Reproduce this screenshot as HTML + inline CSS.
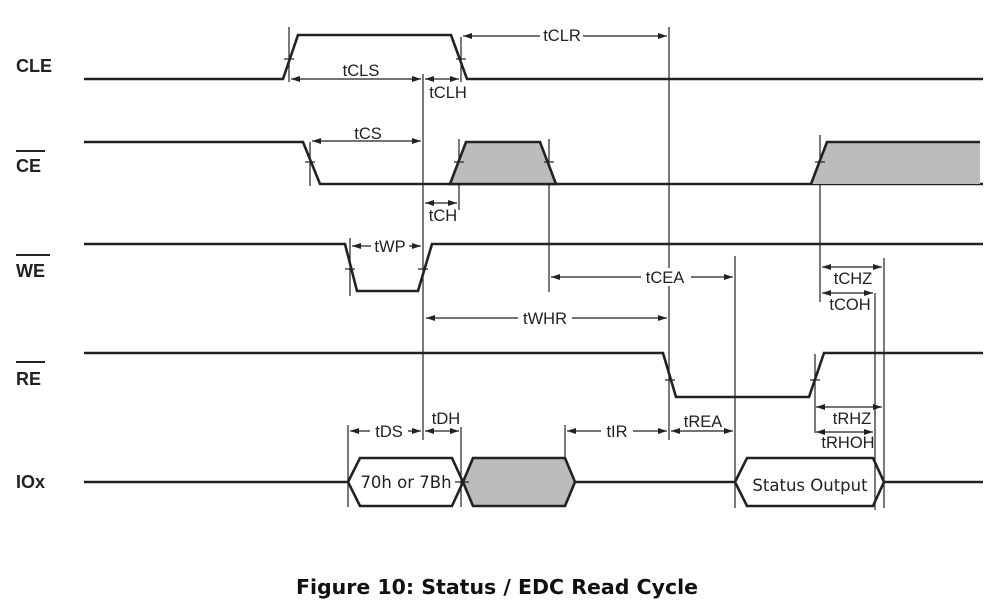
<!DOCTYPE html>
<html><head><meta charset="utf-8"><style>
html,body{margin:0;padding:0;background:#fff;}
svg{display:block;}
.s{fill:none;stroke:#222;stroke-width:2.6;stroke-linejoin:miter;}
.g{fill:#bcbcbc;stroke:#222;stroke-width:2.6;}
.v{stroke:#222;stroke-width:1.2;}
.a{stroke:#222;stroke-width:1.2;marker-start:url(#ms);marker-end:url(#me);}
.t{font-family:"Liberation Sans",Arial,sans-serif;font-size:16.5px;fill:#222;}
.lb{font-family:"Liberation Sans",Arial,sans-serif;font-size:18px;font-weight:bold;fill:#222;}
.bx{font-family:"DejaVu Sans",Verdana,sans-serif;font-size:16.5px;fill:#222;}
</style></head><body>
<svg width="999" height="613" viewBox="0 0 999 613" xmlns="http://www.w3.org/2000/svg">
<defs>
<marker id="me" markerWidth="10" markerHeight="8" refX="9" refY="4" orient="auto" markerUnits="userSpaceOnUse"><path d="M0,1 L9,4 L0,7 Z" fill="#222"/></marker>
<marker id="ms" markerWidth="10" markerHeight="8" refX="1" refY="4" orient="auto" markerUnits="userSpaceOnUse"><path d="M10,1 L1,4 L10,7 Z" fill="#222"/></marker>
</defs>

<text class="lb" x="16" y="72">CLE</text>
<text class="lb" x="16" y="172">CE</text><line x1="16" y1="151" x2="45" y2="151" stroke="#222" stroke-width="2"/>
<text class="lb" x="16" y="277">WE</text><line x1="16" y1="255" x2="50" y2="255" stroke="#222" stroke-width="2"/>
<text class="lb" x="16" y="385">RE</text><line x1="16" y1="362" x2="45" y2="362" stroke="#222" stroke-width="2"/>
<text class="lb" x="16" y="488">IOx</text>

<line class="v" x1="289" y1="27" x2="289" y2="82"/>
<line class="v" x1="461" y1="37" x2="461" y2="82"/>
<line class="v" x1="423" y1="74" x2="423" y2="440"/>
<line class="v" x1="669" y1="27" x2="669" y2="440"/>
<line class="v" x1="310" y1="142" x2="310" y2="186"/>
<line class="v" x1="459" y1="139" x2="459" y2="210"/>
<line class="v" x1="549" y1="139" x2="549" y2="292"/>
<line class="v" x1="820" y1="135" x2="820" y2="302"/>
<line class="v" x1="350" y1="238" x2="350" y2="296"/>
<line class="v" x1="735" y1="256" x2="735" y2="508"/>
<line class="v" x1="884" y1="258" x2="884" y2="508"/>
<line class="v" x1="875" y1="293" x2="875" y2="510"/>
<line class="v" x1="815" y1="354" x2="815" y2="433"/>
<line class="v" x1="348" y1="425" x2="348" y2="507"/>
<line class="v" x1="461" y1="427" x2="461" y2="507"/>
<line class="v" x1="565" y1="425" x2="565" y2="507"/>

<polyline class="s" points="84,79 283,79 298,35 451,35 467,79 983,79"/>
<polyline class="s" points="84,142 303,142 320,184 983,184"/>
<path class="g" d="M450,184 L466,142 L540,142 L556,184 Z"/>
<path class="g" d="M811,184 L827,142 L980,142 L980,184 Z" style="stroke:none"/>
<polyline class="s" points="811,184 827,142 980,142"/>
<polyline class="s" points="84,244 345,244 357,291 418,291 432,244 983,244"/>
<polyline class="s" points="84,353 663,353 676,397 809,397 824,353 983,353"/>
<line class="s" x1="84" y1="482" x2="348" y2="482"/>
<path class="s" d="M348,482 L360,458 L452,458 L463,482 L452,506 L360,506 Z" fill="#fff"/>
<path class="g" d="M463,482 L473,458 L565,458 L575,482 L565,506 L473,506 Z"/>
<line class="s" x1="575" y1="482" x2="735" y2="482"/>
<path class="s" d="M735,482 L747,458 L873,458 L884,482 L873,506 L747,506 Z" fill="#fff"/>
<line class="s" x1="884" y1="482" x2="983" y2="482"/>
<text class="bx" x="406" y="488" text-anchor="middle">70h or 7Bh</text>
<text class="bx" x="810" y="491" text-anchor="middle">Status Output</text>

<g class="v">
<line x1="284" y1="59" x2="294" y2="59"/><line x1="456" y1="59" x2="466" y2="59"/>
<line x1="305" y1="162" x2="315" y2="162"/><line x1="454" y1="162" x2="464" y2="162"/><line x1="544" y1="162" x2="554" y2="162"/><line x1="815" y1="162" x2="825" y2="162"/>
<line x1="345" y1="269" x2="355" y2="269"/><line x1="418" y1="269" x2="428" y2="269"/>
<line x1="665" y1="380" x2="675" y2="380"/><line x1="810" y1="380" x2="820" y2="380"/>
<line x1="455" y1="482" x2="469" y2="482"/>
</g>

<line class="a" x1="291" y1="79" x2="421" y2="79"/>
<line class="a" x1="425" y1="79" x2="459" y2="79"/>
<line class="a" x1="463" y1="36" x2="667" y2="36"/>
<line class="a" x1="312" y1="141" x2="421" y2="141"/>
<line class="a" x1="425" y1="203" x2="457" y2="203"/>
<line class="a" x1="352" y1="246" x2="421" y2="246"/>
<line class="a" x1="551" y1="277" x2="733" y2="277"/>
<line class="a" x1="426" y1="318" x2="667" y2="318"/>
<line class="a" x1="822" y1="267" x2="882" y2="267"/>
<line class="a" x1="822" y1="293" x2="873" y2="293"/>
<line class="a" x1="816" y1="407" x2="882" y2="407"/>
<line class="a" x1="816" y1="432" x2="873" y2="432"/>
<line class="a" x1="350" y1="431" x2="421" y2="431"/>
<line class="a" x1="425" y1="431" x2="459" y2="431"/>
<line class="a" x1="567" y1="431" x2="667" y2="431"/>
<line class="a" x1="671" y1="431" x2="733" y2="431"/>

<g fill="#fff">
<rect x="540" y="27" width="43" height="18"/>
<rect x="641" y="268" width="50" height="18"/>
<rect x="518" y="309" width="54" height="18"/>
<rect x="371" y="237" width="38" height="18"/>
<rect x="370" y="422" width="38" height="18"/>
<rect x="601" y="422" width="32" height="18"/>
</g>
<text class="t" x="562" y="41" text-anchor="middle">tCLR</text>
<text class="t" x="361" y="76" text-anchor="middle">tCLS</text>
<text class="t" x="448" y="98" text-anchor="middle">tCLH</text>
<text class="t" x="368" y="139" text-anchor="middle">tCS</text>
<text class="t" x="443" y="221" text-anchor="middle">tCH</text>
<text class="t" x="390" y="252" text-anchor="middle">tWP</text>
<text class="t" x="665" y="283" text-anchor="middle">tCEA</text>
<text class="t" x="545" y="324" text-anchor="middle">tWHR</text>
<text class="t" x="853" y="284" text-anchor="middle">tCHZ</text>
<text class="t" x="850" y="310" text-anchor="middle">tCOH</text>
<text class="t" x="852" y="424" text-anchor="middle">tRHZ</text>
<text class="t" x="848" y="448" text-anchor="middle">tRHOH</text>
<text class="t" x="389" y="437" text-anchor="middle">tDS</text>
<text class="t" x="446" y="424" text-anchor="middle">tDH</text>
<text class="t" x="617" y="437" text-anchor="middle">tIR</text>
<text class="t" x="703" y="427" text-anchor="middle">tREA</text>

<text x="497" y="594" text-anchor="middle" style="font-family:'DejaVu Sans',Verdana,sans-serif;font-weight:bold;font-size:20.5px;fill:#111">Figure 10: Status / EDC Read Cycle</text>
</svg>
</body></html>
